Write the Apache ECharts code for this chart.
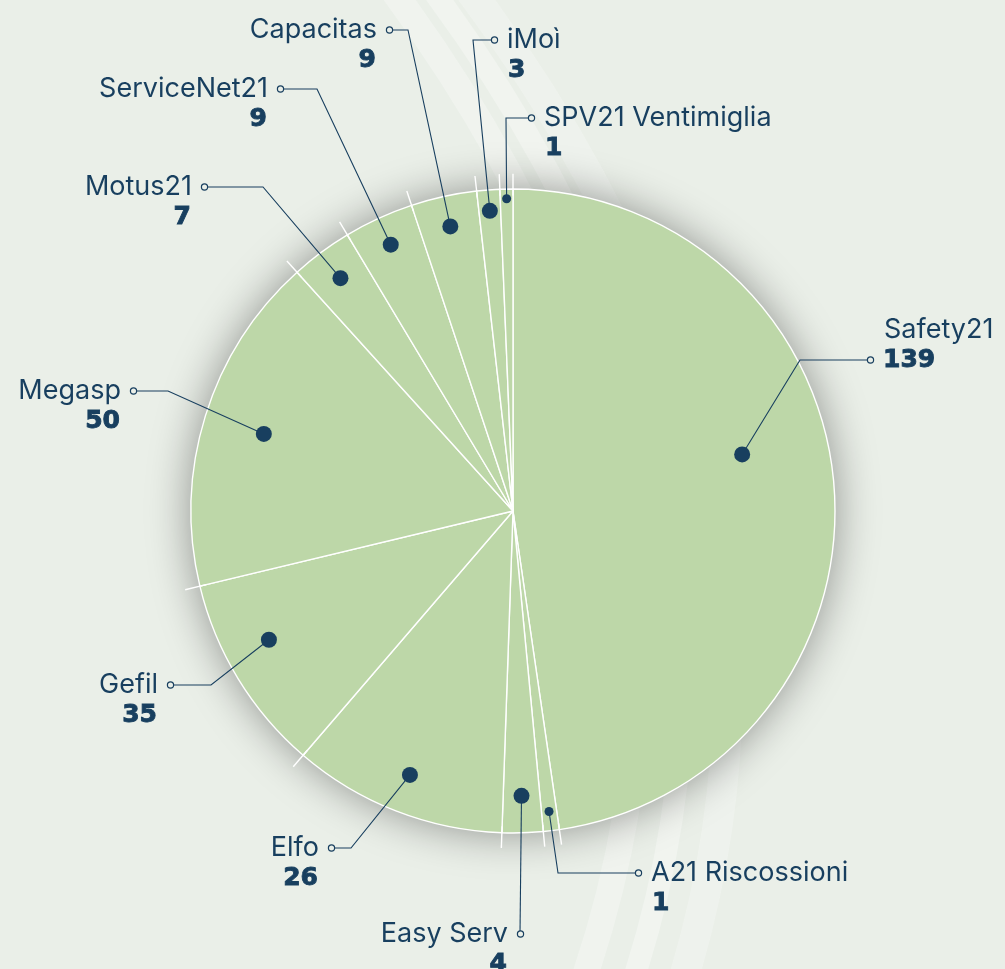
<!DOCTYPE html>
<html>
<head>
<meta charset="utf-8">
<title>Società del gruppo</title>
<script src="https://cdn.jsdelivr.net/npm/echarts@6/dist/echarts.min.js"></script>
<style>
  html, body { margin: 0; padding: 0; background: #eaefe8; }
  #chart { width: 1005px; height: 969px; }
</style>
</head>
<body>
<div id="chart"></div>
<script>
// slices, clockwise from 12 o'clock
var names = ['Safety21', 'A21 Riscossioni', 'Easy Serv', 'Elfo', 'Gefil', 'Megasp', 'Motus21', 'ServiceNet21', 'Capacitas', 'iMoì', 'SPV21 Ventimiglia'];
// numbers printed under each name
var counts = [139, 1, 4, 26, 35, 50, 7, 9, 9, 3, 1];
// slice size in % of the circle (the drawn angles are not proportional to counts)
var shares = [47.7, 0.8, 2.05, 10.75, 9.95, 17.05, 3.1, 3.5, 3.3, 1.15, 0.65];

// where each label sits: side of the text, centre of the small open circle,
// horizontal leg of the leader line, dot distance from the centre (fraction of radius),
// small angular nudge of the dot (angle-axis units)
var labelPos = [
  {side: 'right', at: [871, 360], leg: 71, r: 0.733, da: -2.7, onValue: true},
  {side: 'right', at: [639, 873], leg: 81, r: 0.94, da: 0},
  {side: 'left', at: [520, 934], leg: 0, r: 0.885, da: 0},
  {side: 'left', at: [331, 848], leg: 20, r: 0.88, da: 0},
  {side: 'left', at: [170, 685], leg: 41, r: 0.857, da: 1},
  {side: 'left', at: [133, 391], leg: 35, r: 0.81, da: 0},
  {side: 'left', at: [204, 187], leg: 59, r: 0.90, da: 0},
  {side: 'left', at: [280, 89], leg: 37, r: 0.91, da: 0},
  {side: 'left', at: [389, 30], leg: 19, r: 0.905, da: 0},
  {side: 'right', at: [495, 40], leg: 22, r: 0.935, da: 0},
  {side: 'right', at: [532, 118], leg: 26, r: 0.97, da: 0}
];

var navy = '#183f5f';
var green = '#bdd7a8';
var bg = '#eaefe8';
var center = [513, 511];
var radius = 322;

// slice boundaries and mid angles on the 0..100 angle axis
var bounds = [];
var mids = [];
var acc = 0;
shares.forEach(function (s) {
  bounds.push(acc);
  mids.push(acc + s / 2);
  acc += s;
});

var chart = echarts.init(document.getElementById('chart'));

function stripe(x0, x1, cx, alpha, w) {
  return {
    type: 'bezierCurve', silent: true, z: -10,
    shape: {x1: x0, y1: -20, x2: x1, y2: 990, cpx1: cx, cpy1: 480},
    style: {fill: 'none', stroke: 'rgba(255,255,255,' + alpha + ')', lineWidth: w}
  };
}

var option = {
  backgroundColor: bg,
  animation: false,
  graphic: [
    stripe(385, 580, 760, 0.28, 26),
    stripe(425, 630, 800, 0.32, 22),
    stripe(462, 680, 840, 0.22, 30)
  ],
  polar: {center: center, radius: radius},
  angleAxis: {type: 'value', min: 0, max: 100, startAngle: 90, clockwise: true, show: false},
  radiusAxis: {type: 'value', min: 0, max: 1, show: false},
  series: [
    {
      // disc underneath, only for the soft shadow
      type: 'pie',
      silent: true,
      center: center,
      radius: radius,
      label: {show: false},
      labelLine: {show: false},
      itemStyle: {color: green, shadowBlur: 44, shadowColor: 'rgba(0,0,0,0.4)'},
      data: [{value: 1}],
      z: 1
    },
    {
      type: 'pie',
      silent: true,
      center: center,
      radius: radius,
      startAngle: 90,
      clockwise: true,
      itemStyle: {color: green, borderColor: '#ffffff', borderWidth: 1.4},
      label: {show: false},
      labelLine: {show: false},
      data: names.map(function (n, i) { return {name: n, value: shares[i]}; }),
      z: 2
    },
    {
      // white separators running a little past the rim
      type: 'custom',
      coordinateSystem: 'polar',
      silent: true,
      data: bounds.map(function (b) { return [1, b]; }),
      renderItem: function (params, api) {
        var a = api.value(1);
        var p0 = api.coord([0.98, a]);
        var p1 = api.coord([1.047, a]);
        return {
          type: 'line',
          shape: {x1: p0[0], y1: p0[1], x2: p1[0], y2: p1[1]},
          style: {stroke: '#ffffff', lineWidth: 1.4}
        };
      },
      z: 3
    },
    {
      // transparent copy of the pie that carries the labels and leader lines on top
      type: 'pie',
      silent: true,
      center: center,
      radius: radius,
      startAngle: 90,
      clockwise: true,
      itemStyle: {color: 'rgba(0,0,0,0)'},
      data: names.map(function (n, i) {
        return {name: n, value: shares[i], label: {align: labelPos[i].side === 'right' ? 'left' : 'right'}};
      }),
      label: {
        show: true,
        position: 'outside',
        formatter: function (p) {
          var i = p.dataIndex, L = labelPos[i];
          if (L.side === 'right') {
            if (L.onValue) return '{s|}{n|' + names[i] + '}\n{c|}{g|}{v|' + counts[i] + '}';
            return '{c|}{g|}{n|' + names[i] + '}\n{s|}{v|' + counts[i] + '}';
          }
          return '{n|' + names[i] + '}{g|}{c|}\n{v|' + counts[i] + '}{s|}';
        },
        rich: {
          n: {fontFamily: 'Inter', fontSize: 27, color: navy, lineHeight: 30},
          v: {fontFamily: 'DejaVu Sans', fontSize: 25, fontWeight: 'bold', color: navy, lineHeight: 30,
            textBorderColor: navy, textBorderWidth: 0.9},
          c: {width: 5, height: 5, borderRadius: 3, borderWidth: 1.2, borderColor: navy, backgroundColor: bg, verticalAlign: 'middle'},
          g: {width: 10},
          s: {width: 16}
        }
      },
      labelLine: {show: true, showAbove: true, length: 10, length2: 10, lineStyle: {color: navy, width: 1.1}},
      labelLayout: function (p) {
        var i = p.dataIndex, L = labelPos[i];
        var dot = null;
        try {
          dot = chart.convertToPixel({seriesIndex: 4}, [L.r, mids[i] + L.da]);
        } catch (e) {
          dot = null;
        }
        if (!dot) dot = p.labelLinePoints[0];
        var cx = L.at[0], cy = L.at[1];
        var right = L.side === 'right';
        return {
          x: right ? cx - 3 : cx + 3,
          y: L.onValue ? cy - 45 : cy - 15,
          align: right ? 'left' : 'right',
          verticalAlign: 'top',
          labelLinePoints: [dot, [right ? cx - L.leg : cx + L.leg, cy], [cx, cy]]
        };
      },
      z: 4
    },
    {
      type: 'scatter',
      coordinateSystem: 'polar',
      silent: true,
      symbol: 'circle',
      symbolSize: function (v, p) { return counts[p.dataIndex] > 1 ? 16 : 9; },
      itemStyle: {color: navy, opacity: 1},
      data: labelPos.map(function (L, i) { return [L.r, mids[i] + L.da]; }),
      z: 5
    }
  ]
};

chart.setOption(option);
</script>
</body>
</html>
